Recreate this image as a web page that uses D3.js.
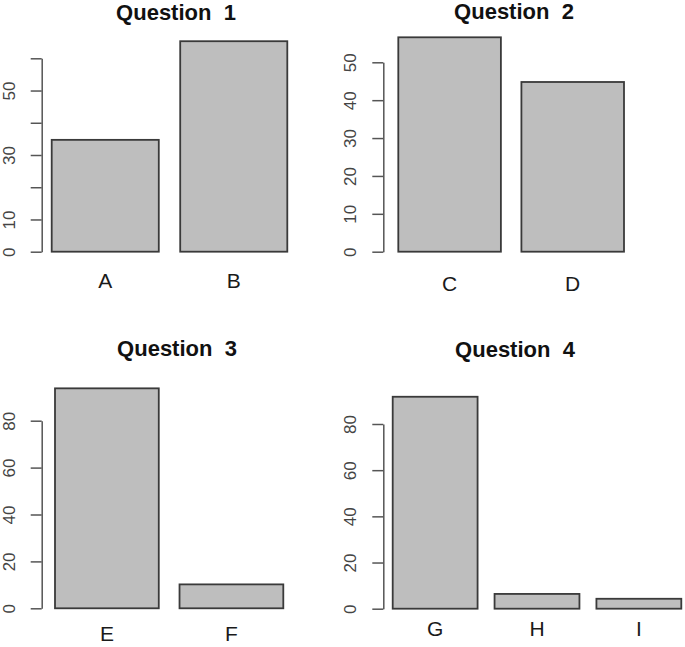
<!DOCTYPE html>
<html>
<head>
<meta charset="utf-8">
<script src="https://cdn.jsdelivr.net/npm/d3@7"></script>
<style>
  html, body { margin: 0; padding: 0; background: #fff; }
  svg { display: block; font-family: "Liberation Sans", Arial, Helvetica, sans-serif; }
  .title { font-weight: bold; font-size: 22px; fill: #111; white-space: pre; }
  .cat { font-size: 21px; fill: #1a1a1a; }
  .axis text { font-size: 17px; fill: #444; }
  .axis path, .axis line { stroke: #555; stroke-width: 1.5; }
  .bar { fill: #bebebe; stroke: #3a3a3a; stroke-width: 1.8; }
</style>
</head>
<body>
<svg id="chart"></svg>
<script>
// data
const titles = ["Question  1", "Question  2", "Question  3", "Question  4"];
const categories = [["A", "B"], ["C", "D"], ["E", "F"], ["G", "H", "I"]];
const values = [[34.7, 65.3], [56.6, 44.8], [93.8, 10.2], [91.8, 6.4, 4.3]];
const tickMax = [60, 50, 80, 80];
const tickStep = [10, 10, 20, 20];
const tickLabels = [[0, 10, 30, 50], [0, 10, 20, 30, 40, 50], [0, 20, 40, 60, 80], [0, 20, 40, 60, 80]];

// panel geometry (pixels in the 685x647 page)
const panels = [
  { axisX: 41.7,  y0: 251.7, yTop: 58.3,  x0: 51.7,  x1: 287.3, titleX: 176, titleY: 20,  catY: 288 },
  { axisX: 383.3, y0: 251.7, yTop: 62.3,  x0: 398.3, x1: 624,   titleX: 514, titleY: 19,  catY: 291 },
  { axisX: 41.7,  y0: 608.3, yTop: 420.7, x0: 55,    x1: 283.3, titleX: 177, titleY: 356, catY: 641 },
  { axisX: 383.3, y0: 608.7, yTop: 424,   x0: 392.7, x1: 681.3, titleX: 515, titleY: 357, catY: 636 }
];

const width = 685, height = 647;
const svg = d3.select("#chart").attr("width", width).attr("height", height);

panels.forEach((p, i) => {
  const g = svg.append("g");

  const x = d3.scaleBand()
    .domain(categories[i])
    .range([p.x0, p.x1])
    .paddingInner(1 / 6)
    .paddingOuter(0);

  const y = d3.scaleLinear()
    .domain([0, tickMax[i]])
    .range([p.y0, p.yTop]);

  // bars
  g.selectAll(".bar")
    .data(values[i])
    .join("rect")
    .attr("class", "bar")
    .attr("x", (d, j) => x(categories[i][j]))
    .attr("width", x.bandwidth())
    .attr("y", d => y(d))
    .attr("height", d => y(0) - y(d));

  // y axis, R style: labels rotated, some skipped
  const ticks = d3.range(0, tickMax[i] + 0.001, tickStep[i]);
  const ax = g.append("g")
    .attr("class", "axis")
    .attr("transform", `translate(${p.axisX},0)`)
    .call(d3.axisLeft(y)
      .tickValues(ticks)
      .tickSize(11)
      .tickSizeOuter(0)
      .tickFormat(d => tickLabels[i].includes(d) ? d : ""));

  ax.selectAll("text")
    .attr("x", null)
    .attr("dy", null)
    .attr("text-anchor", "middle")
    .attr("transform", "translate(-27,0) rotate(-90)");

  // category names
  g.selectAll(".cat")
    .data(categories[i])
    .join("text")
    .attr("class", "cat")
    .attr("x", d => x(d) + x.bandwidth() / 2)
    .attr("y", p.catY)
    .attr("text-anchor", "middle")
    .text(d => d);

  // title (keep the double space)
  g.append("text")
    .attr("class", "title")
    .attr("xml:space", "preserve")
    .attr("x", p.titleX)
    .attr("y", p.titleY)
    .attr("text-anchor", "middle")
    .text(titles[i]);
});
</script>
</body>
</html>
